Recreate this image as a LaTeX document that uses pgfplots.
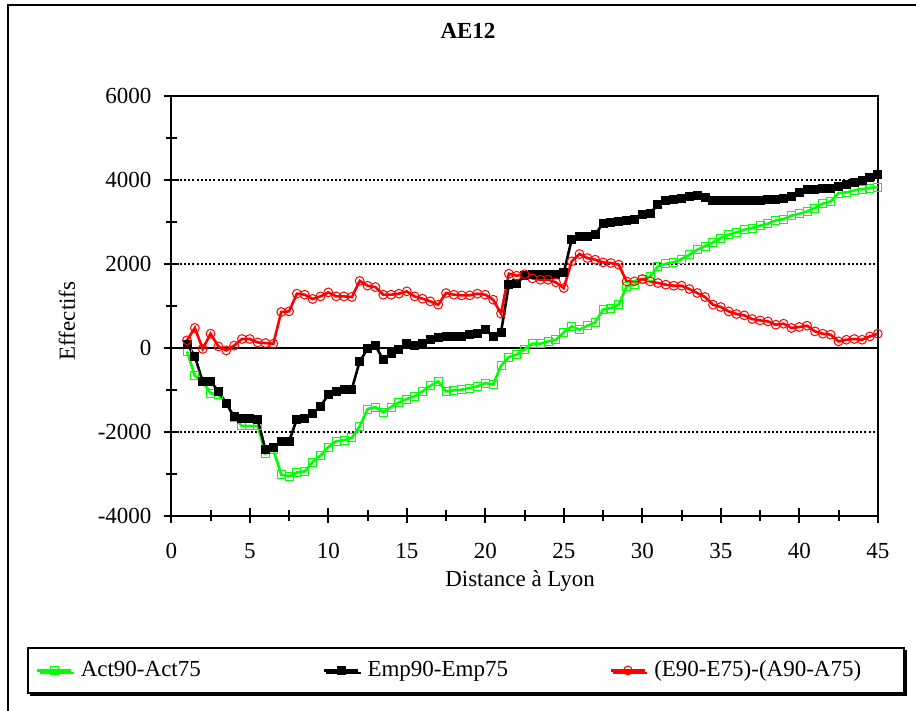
\documentclass[border=0pt]{standalone}
\usepackage{fontspec}
\setmainfont{Liberation Serif}
\usepackage{pgfplots}
\pgfplotsset{compat=1.18}
\usetikzlibrary{shadows}
\definecolor{exgreen}{RGB}{0,255,0}
\definecolor{exred}{RGB}{255,0,0}

\pgfplotstableread{
x y
1 -90
1.5 -670
2 -810
2.5 -1080
3 -1120
3.5 -1320
4 -1660
4.5 -1860
5 -1860
5.5 -1860
6 -2520
6.5 -2430
7 -3020
7.5 -3064
8 -2970
8.5 -2945
9 -2722
9.5 -2571
10 -2365
10.5 -2230
11 -2200
11.5 -2150
12 -1873
12.5 -1460
13 -1412
13.5 -1540
14 -1412
14.5 -1302
15 -1222
15.5 -1159
16 -1040
16.5 -905
17 -802
17.5 -1040
18 -1016
18.5 -1000
19 -960
19.5 -921
20 -841
20.5 -881
21 -429
21.5 -222
22 -160
22.5 -40
23 95
23.5 95
24 150
24.5 190
25 365
25.5 507
26 429
26.5 524
27 603
27.5 905
28 945
28.5 1024
29 1460
29.5 1500
30 1619
30.5 1698
31 1936
31.5 2000
32 2031
32.5 2111
33 2214
33.5 2333
34 2420
34.5 2507
35 2611
35.5 2690
36 2745
36.5 2810
37 2850
37.5 2905
38 2952
38.5 3031
39 3064
39.5 3143
40 3190
40.5 3245
41 3326
41.5 3430
42 3483
42.5 3683
43 3698
43.5 3745
44 3778
44.5 3802
45 3826
}\actdata

\pgfplotstableread{
x y
1 80
1.5 -200
2 -810
2.5 -800
3 -1040
3.5 -1320
4 -1650
4.5 -1690
5 -1690
5.5 -1710
6 -2430
6.5 -2370
7 -2230
7.5 -2230
8 -1700
8.5 -1675
9 -1570
9.5 -1400
10 -1120
10.5 -1040
11 -1000
11.5 -984
12 -325
12.5 -30
13 48
13.5 -285
14 -143
14.5 -48
15 95
15.5 48
16 95
16.5 190
17 254
17.5 270
18 270
18.5 270
19 310
19.5 350
20 429
20.5 270
21 365
21.5 1500
22 1524
22.5 1720
23 1738
23.5 1738
24 1738
24.5 1738
25 1793
25.5 2571
26 2650
26.5 2650
27 2690
27.5 2969
28 2984
28.5 3008
29 3032
29.5 3064
30 3167
30.5 3207
31 3405
31.5 3507
32 3524
32.5 3555
33 3602
33.5 3620
34 3580
34.5 3510
35 3500
35.5 3500
36 3510
36.5 3510
37 3500
37.5 3510
38 3520
38.5 3530
39 3560
39.5 3600
40 3700
40.5 3760
41 3770
41.5 3780
42 3800
42.5 3850
43 3890
43.5 3930
44 3980
44.5 4060
45 4130
}\empdata

\pgfplotstableread{
x y
1 175
1.5 470
2 -30
2.5 333
3 30
3.5 -64
4 48
4.5 207
5 207
5.5 126
6 110
6.5 95
7 850
7.5 865
8 1286
8.5 1262
9 1160
9.5 1222
10 1317
10.5 1222
11 1222
11.5 1207
12 1590
12.5 1476
13 1444
13.5 1262
14 1262
14.5 1286
15 1341
15.5 1222
16 1167
16.5 1103
17 1024
17.5 1302
18 1262
18.5 1246
19 1246
19.5 1286
20 1262
20.5 1143
21 810
21.5 1762
22 1714
22.5 1750
23 1650
23.5 1619
24 1619
24.5 1555
25 1421
25.5 2055
26 2230
26.5 2135
27 2095
27.5 2031
28 2016
28.5 1976
29 1579
29.5 1579
30 1635
30.5 1579
31 1540
31.5 1500
32 1476
32.5 1476
33 1397
33.5 1302
34 1207
34.5 1024
35 969
35.5 865
36 802
36.5 770
37 683
37.5 650
38 626
38.5 548
39 571
39.5 469
40 493
40.5 524
41 388
41.5 333
42 310
42.5 150
43 190
43.5 207
44 190
44.5 270
45 333
}\diffdata

\begin{document}
\fontsize{11.5}{13.8}\selectfont
\begin{tikzpicture}[x=0.5pt,y=0.5pt]
\useasboundingbox (0,0) rectangle (916,711);
\draw[line width=1pt] (8,-20) -- (8,706) -- (940,706);
\node[font=\fontsize{11.5}{13.8}\selectfont\bfseries] at (468,711-31) {AE12};
\node[rotate=90] at (67,711-321) {Effectifs};
\node at (520,711-581) {Distance à Lyon};
\begin{axis}[
  at={(85.65pt,97.65pt)}, anchor=south west,
  scale only axis, width=353.25pt, height=210pt,
  xmin=0, xmax=45, ymin=-4000, ymax=6000,
  xtick={0,5,...,45},
  xticklabels={0,5,10,15,20,25,30,35,40,45},
  ytick={-4000,-2000,0,2000,4000,6000},
  yticklabels={-4000,-2000,0,2000,4000,6000},
  minor x tick num=1, minor y tick num=1,
  xtick pos=bottom, ytick pos=left,
  tick align=center,
  major tick length=7.8pt, minor tick length=5.3pt,
  every tick/.style={black, line width=1pt},
  axis line style={line width=1.1pt},
  ymajorgrids,
  major grid style={black, line width=0.9pt, dash pattern=on 1pt off 1.1pt},
  /pgf/number format/assume math mode=true,
  ticklabel style={font=\fontsize{11.5}{13.8}\selectfont},
  xticklabel style={yshift=-6pt},
  yticklabel style={xshift=-2pt},
  clip=false,
  legend columns=3,
  legend cell align=left,
  legend style={at={(-0.2042,-0.3686)}, anchor=west, draw=black, line width=1pt,
    font=\fontsize{11.5}{13.8}\selectfont,
    inner xsep=4pt, inner ysep=4.5pt,
    drop shadow={shadow xshift=1.2pt, shadow yshift=-1.2pt, fill=black, opacity=1},
    /tikz/every odd column/.append style={column sep=2pt},
    /tikz/every even column/.append style={text width=119pt}},
]
\draw[black, line width=1.1pt] (axis cs:0,0) -- (axis cs:45,0);
\addplot[exgreen, line width=1.3pt, mark=square, mark size=2pt, mark options={line width=0.5pt}] table {\actdata};
\addlegendentry{Act90-Act75}
\addplot[black, line width=1.3pt, mark=square*, mark size=2pt, mark options={line width=0.5pt}] table {\empdata};
\addlegendentry{Emp90-Emp75}
\addplot[exred, line width=1.3pt, mark=o, mark size=2.2pt, mark options={line width=0.5pt}] table {\diffdata};
\addlegendentry{(E90-E75)-(A90-A75)}
\end{axis}
\end{tikzpicture}
\end{document}
